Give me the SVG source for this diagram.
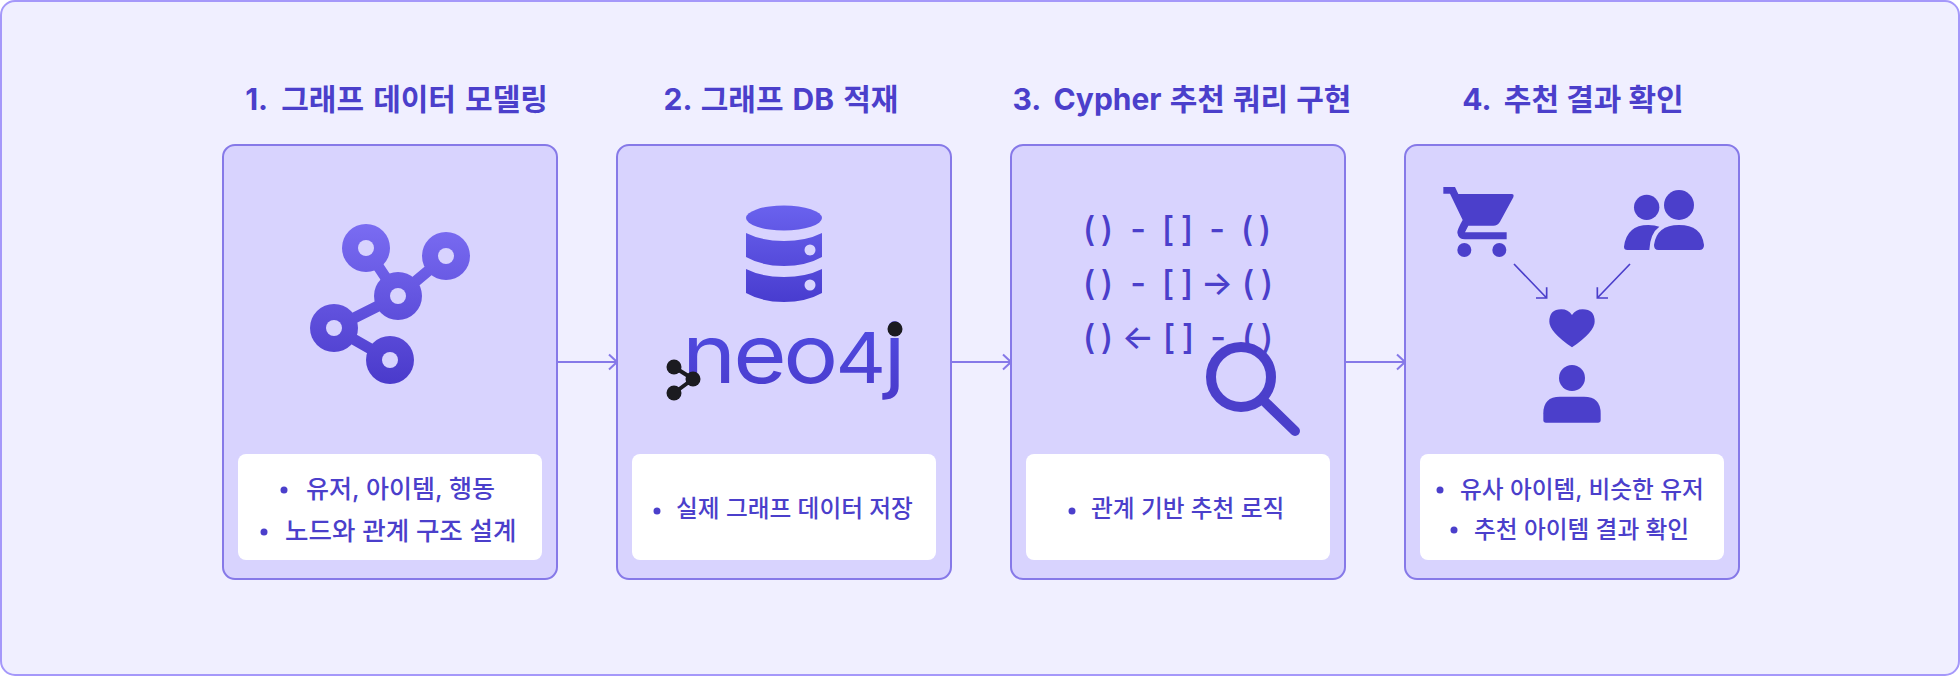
<svg xmlns="http://www.w3.org/2000/svg" width="1960" height="676" viewBox="0 0 1960 676">
<style>
.t{font-family:"Inter","Noto Sans CJK KR",sans-serif;font-weight:700;font-size:30px;fill:#4b3fcb;text-anchor:middle;word-spacing:2px}
.i{font-family:"Inter","Noto Sans CJK KR",sans-serif;font-weight:500;font-size:23.7px;fill:#4b3fcb}
.c{font-family:"Inter",sans-serif;font-weight:500;font-size:34px;fill:#4b3fcb;text-anchor:middle}
.card{fill:#d8d3fe;stroke:#8679e8;stroke-width:2}
.box{fill:#fff}
.b{fill:#4b3fcb}
.h{fill:#d8d3fe}
.conn{fill:none;stroke:#8679e8;stroke-width:2}
.a{fill:none;stroke:#4b3fcb;stroke-width:5}
</style>
<defs>
<linearGradient id="g1" gradientUnits="userSpaceOnUse" x1="0" y1="224" x2="0" y2="384"><stop offset="0" stop-color="#7a6cf2"/><stop offset="1" stop-color="#4a3acb"/></linearGradient>
<linearGradient id="g2" gradientUnits="userSpaceOnUse" x1="0" y1="205" x2="0" y2="302"><stop offset="0" stop-color="#6a62ee"/><stop offset="1" stop-color="#483ccf"/></linearGradient>
<linearGradient id="g3" gradientUnits="userSpaceOnUse" x1="0" y1="-55" x2="0" y2="18"><stop offset="0" stop-color="#4f4ae0"/><stop offset="1" stop-color="#4a3acb"/></linearGradient>
<marker id="arr" markerUnits="userSpaceOnUse" markerWidth="12" markerHeight="18" refX="11" refY="9" orient="auto"><path d="M3 1.5L11 9L3 16.5" fill="none" stroke="#8679e8" stroke-width="2"/></marker>
</defs>
<rect id="background" x="1" y="1" width="1958" height="674" rx="14" fill="#f0efff" stroke="#a598fa" stroke-width="2"/>
<g id="connectors">
<path class="conn" d="M557 362H617" marker-end="url(#arr)"/>
<path class="conn" d="M951 362H1011" marker-end="url(#arr)"/>
<path class="conn" d="M1345 362H1405" marker-end="url(#arr)"/>
</g>
<g id="node1">
<text class="t" x="396.5" y="110">1. <tspan dx="5">그래프 데이터 모델링</tspan></text>
<rect class="card" x="223" y="145" width="334" height="434" rx="12"/>
<path d="M366 248L398 296L446 256M398 296L334 328L390 360" fill="none" stroke="url(#g1)" stroke-width="11"/>
<g fill="url(#g1)">
<circle cx="366" cy="248" r="24"/><circle cx="446" cy="256" r="24"/><circle cx="398" cy="296" r="24"/><circle cx="334" cy="328" r="24"/><circle cx="390" cy="360" r="24"/>
</g>
<circle class="h" cx="366" cy="248" r="8"/><circle class="h" cx="446" cy="256" r="8"/><circle class="h" cx="398" cy="296" r="8"/><circle class="h" cx="334" cy="328" r="8"/><circle class="h" cx="390" cy="360" r="8"/>
<rect class="box" x="238" y="454" width="304" height="106" rx="8"/>
<circle class="b" cx="284" cy="490" r="3.5"/><text class="i" x="306" y="498" style="font-size:25px">유저, 아이템, 행동</text>
<circle class="b" cx="264" cy="532" r="3.5"/><text class="i" x="285" y="540" style="font-size:25.5px">노드와 관계 구조 설계</text>
</g>
<g id="node2">
<text class="t" x="781" y="110">2. 그래프 DB 적재</text>
<rect class="card" x="617" y="145" width="334" height="434" rx="12"/>
<g fill="url(#g2)">
<ellipse cx="784" cy="218" rx="38" ry="12.5"/>
<path d="M746 233Q762 241 784 241Q806 241 822 233V257Q806 266 784 266Q762 266 746 257Z"/>
<path d="M746 269Q762 277 784 277Q806 277 822 269V293Q806 302 784 302Q762 302 746 293Z"/>
</g>
<circle class="h" cx="810" cy="250" r="5.5"/><circle class="h" cx="810" cy="285" r="5.5"/>
<text transform="translate(682 383) scale(1.12 1)" font-family="Inter,sans-serif" font-weight="400" font-size="82" fill="url(#g3)"><tspan x="0">n</tspan><tspan x="45.8">e</tspan><tspan x="90.4">o</tspan><tspan x="137" font-size="70">4</tspan><tspan x="180">j</tspan></text>
<circle cx="895" cy="329" r="7.5" fill="#1b1b20"/>
<path d="M674 367L693 379L674 393" fill="none" stroke="#1b1b20" stroke-width="4"/>
<circle cx="674" cy="367" r="7.5" fill="#1b1b20"/><circle cx="693" cy="379" r="7.5" fill="#1b1b20"/><circle cx="674" cy="393" r="7.5" fill="#1b1b20"/>
<rect class="box" x="632" y="454" width="304" height="106" rx="8"/>
<circle class="b" cx="657" cy="511" r="3.5"/><text class="i" x="676" y="517">실제 그래프 데이터 저장</text>
</g>
<g id="node3">
<text class="t" x="1182" y="110" style="word-spacing:1px">3. <tspan dx="5">Cypher 추천 쿼리 구현</tspan></text>
<rect class="card" x="1011" y="145" width="334" height="434" rx="12"/>
<text class="c" y="241" x="1089 1098 1107 1122 1138 1153 1168 1178 1187 1202 1217 1232 1247 1256 1265">( ) - [ ] - ( )</text>
<text class="c" y="295" x="1089 1098 1107 1122 1138 1153 1168 1178 1187 1202 1217 1232 1248 1257 1267">( ) - [ ] → ( )</text>
<text class="c" y="349" x="1089 1098 1107 1122 1138 1153 1169 1178 1188 1203 1218 1233 1248 1257 1267">( ) ← [ ] - ( )</text>
<circle cx="1241" cy="377" r="30" fill="#d8d3fe" stroke="#4b3fcb" stroke-width="10"/>
<path d="M1263 400L1295 431" fill="none" stroke="#4b3fcb" stroke-width="10" stroke-linecap="round"/>
<rect class="box" x="1026" y="454" width="304" height="106" rx="8"/>
<circle class="b" cx="1072" cy="511" r="3.5"/><text class="i" x="1091" y="517">관계 기반 추천 로직</text>
</g>
<g id="node4">
<text class="t" x="1573" y="110" style="word-spacing:0">4. <tspan dx="6">추천 결과 확인</tspan></text>
<rect class="card" x="1405" y="145" width="334" height="434" rx="12"/>
<g transform="translate(1400 60) scale(.33333)">
<path class="b" d="M130 381H165L175 402H335Q343 402 340 412L300 485Q293 497 280 497H205L195 517H320V538H195Q175 538 172 518Q172 508 188 480L150 401H130Z"/>
<circle class="b" cx="193" cy="570" r="21"/><circle class="b" cx="298" cy="570" r="21"/>
<circle class="b" cx="740" cy="442" r="38"/><circle class="b" cx="837" cy="435" r="45"/>
<path class="b" d="M672 560Q680 495 745 495Q765 495 778 500Q750 520 748 570H682Q672 570 672 560Z"/>
<path class="b" d="M762 555Q770 495 837 495Q905 495 912 555Q912 570 898 570H775Q762 570 762 555Z"/>
<path class="a" d="M342 612L440 714M408 714H440V682M690 612L592 714M624 714H592V682"/>
<path class="b" d="M516 862Q448 815 448 785Q448 748 484 748Q505 748 516 765Q527 748 548 748Q584 748 584 785Q584 815 516 862Z"/>
<circle class="b" cx="516" cy="954" r="39"/>
<path class="b" d="M430 1060Q430 1010 480 1010H552Q602 1010 602 1060V1080Q602 1088 594 1088H438Q430 1088 430 1080Z"/>
</g>
<rect class="box" x="1420" y="454" width="304" height="106" rx="8"/>
<circle class="b" cx="1440" cy="490" r="3.5"/><text class="i" x="1460" y="498">유사 아이템, 비슷한 유저</text>
<circle class="b" cx="1454" cy="530" r="3.5"/><text class="i" x="1474" y="538">추천 아이템 결과 확인</text>
</g>
</svg>
